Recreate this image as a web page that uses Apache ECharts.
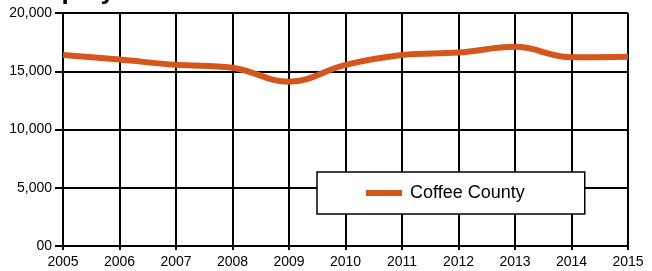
<!DOCTYPE html>
<html>
<head>
<meta charset="utf-8">
<script src="https://cdn.jsdelivr.net/npm/echarts@6/dist/echarts.min.js"></script>
<style>
  html, body { margin: 0; padding: 0; background: #fff; }
  #chart { width: 652px; height: 271px; }
</style>
</head>
<body>
<div id="chart"></div>
<script>
const years = ['2005', '2006', '2007', '2008', '2009', '2010', '2011', '2012', '2013', '2014', '2015'];
const coffeeCounty = [16400, 16000, 15550, 15300, 14100, 15550, 16400, 16600, 17100, 16200, 16250];
const seriesName = 'Coffee County';
const titleText = 'Employment';

const chart = echarts.init(document.getElementById('chart'), null, { renderer: 'canvas' });
const font = 'Liberation Sans, Arial, sans-serif';

chart.setOption({
  animation: false,
  title: {
    text: titleText, left: 16, top: -26,
    textStyle: { fontFamily: font, fontSize: 26, fontWeight: 'bold', color: '#000' }
  },
  grid: { left: 63, right: 24, top: 13, bottom: 25 },
  legend: {
    left: 317, top: 172,
    backgroundColor: '#fff', borderColor: '#000', borderWidth: 1.5,
    padding: [12, 60, 12, 49],
    itemWidth: 36, itemHeight: 6, itemGap: 10,
    icon: 'rect',
    textStyle: { fontFamily: font, fontSize: 18, color: '#000', padding: [0, 0, 0, 3] },
    data: [seriesName]
  },
  xAxis: {
    type: 'category', data: years, boundaryGap: false,
    axisLine: { lineStyle: { color: '#000', width: 2 } },
    axisTick: { show: true, length: 4, lineStyle: { color: '#000', width: 2 } },
    axisLabel: { fontFamily: font, fontSize: 14, color: '#000', margin: 9 },
    splitLine: { show: true, lineStyle: { color: '#000', width: 2 } }
  },
  yAxis: {
    type: 'value', min: 0, max: 20000, interval: 5000,
    axisLine: { show: true, lineStyle: { color: '#000', width: 2 } },
    axisTick: { show: true, length: 8, lineStyle: { color: '#000', width: 2 } },
    axisLabel: {
      fontFamily: font, fontSize: 14, color: '#000', margin: 11,
      formatter: v => v === 0 ? '00' : v.toLocaleString('en-US')
    },
    splitLine: { show: true, lineStyle: { color: '#000', width: 2 } }
  },
  series: [{
    name: seriesName, type: 'line', data: coffeeCounty,
    smooth: 0.4, showSymbol: false,
    lineStyle: { color: '#d4561b', width: 6 },
    itemStyle: { color: '#d4561b' }
  }]
});
</script>
</body>
</html>
